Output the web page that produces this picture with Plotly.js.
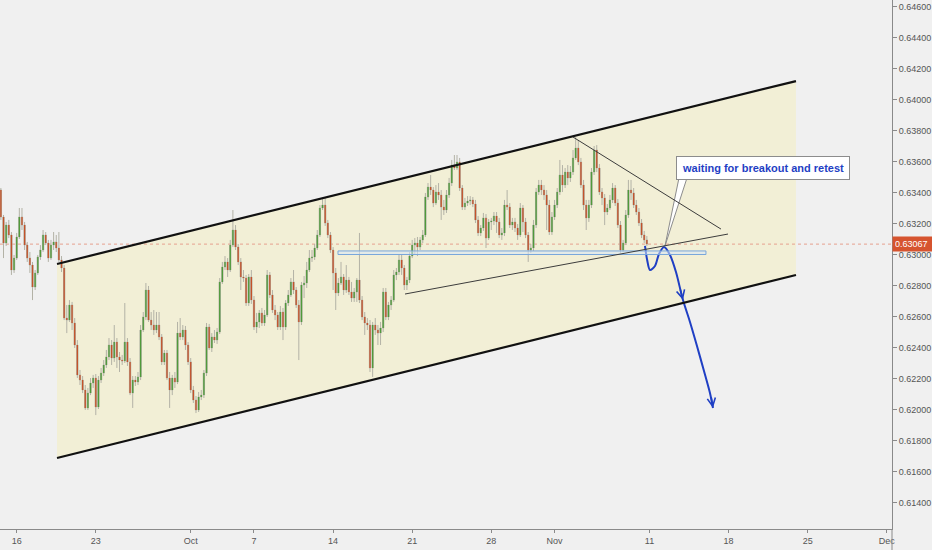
<!DOCTYPE html>
<html>
<head>
<meta charset="utf-8">
<script src="https://cdn.plot.ly/plotly-3.0.1.min.js"></script>
<style>
  html, body { margin: 0; padding: 0; background: #f0f0f0; }
  #chart { width: 932px; height: 550px; }
</style>
</head>
<body>
<div id="chart"></div>
<script>
// ---- 4-hour bars, first bar Thu 2019-09-12 20:00, then 6 bars per trading day ----
const firstBar = '2019-09-12 20:00';
const tradingDays = ['2019-09-13','2019-09-16','2019-09-17','2019-09-18','2019-09-19','2019-09-20',
  '2019-09-23','2019-09-24','2019-09-25','2019-09-26','2019-09-27','2019-09-30','2019-10-01','2019-10-02',
  '2019-10-03','2019-10-04','2019-10-07','2019-10-08','2019-10-09','2019-10-10','2019-10-11','2019-10-14',
  '2019-10-15','2019-10-16','2019-10-17','2019-10-18','2019-10-21','2019-10-22','2019-10-23','2019-10-24',
  '2019-10-25','2019-10-28','2019-10-29','2019-10-30','2019-10-31','2019-11-01','2019-11-04','2019-11-05',
  '2019-11-06','2019-11-07','2019-11-08'];
const barHours = ['00:00','04:00','08:00','12:00','16:00','20:00'];

const openP = [
.63365,.63416,.63242,.63074,.63190,.63126,.62900,.62977,.63113,.63242,
.63190,.63061,.62977,.62932,.62790,.62881,.62984,.63029,.63126,.63074,
.62977,.63061,.63081,.63042,.62965,.62913,.62590,.62577,.62674,.62558,
.62416,.62223,.62190,.62126,.62010,.62106,.62171,.62203,.62016,.62190,
.62235,.62287,.62339,.62416,.62332,.62435,.62339,.62319,.62313,.62435,
.62307,.62106,.62190,.62177,.62210,.62513,.62597,.62771,.62577,.62545,
.62513,.62545,.62468,.62307,.62364,.62203,.62126,.62203,.62177,.62493,
.62468,.62513,.62416,.62307,.62126,.62061,.61997,.62081,.62093,.62235,
.62532,.62397,.62468,.62448,.62500,.62823,.62919,.62952,.62900,.63061,
.63158,.63048,.62952,.62855,.62848,.62687,.62855,.62706,.62532,.62565,
.62623,.62558,.62610,.62868,.62739,.62642,.62610,.62532,.62629,.62532,
.62687,.62739,.62823,.62771,.62674,.62565,.62803,.62816,.62900,.62977,
.62984,.63042,.63126,.63300,.63319,.63203,.63126,.63029,.62881,.62752,
.62816,.62855,.62771,.62835,.62758,.62719,.62758,.62835,.62706,.62597,
.62558,.62545,.62268,.62545,.62513,.62493,.62526,.62758,.62597,.62674,
.62706,.62868,.62887,.62965,.62913,.62803,.62835,.62990,.63061,.63074,
.63048,.63094,.63126,.63371,.63435,.63416,.63332,.63403,.63384,.63306,
.63287,.63384,.63461,.63577,.63558,.63597,.63429,.63306,.63332,.63345,
.63352,.63326,.63223,.63139,.63171,.63236,.63106,.63210,.63216,.63248,
.63210,.63126,.63139,.63319,.63306,.63190,.63210,.63171,.63126,.63300,
.63210,.63126,.63029,.63042,.63190,.63403,.63448,.63416,.63384,.63319,
.63145,.63242,.63319,.63403,.63513,.63448,.63532,.63494,.63532,.63623,
.63687,.63597,.63448,.63319,.63236,.63319,.63532,.63674,.63558,.63403,
.63365,.63274,.63300,.63352,.63429,.63332,.63190,.63029,.63074,.63255,
.63416,.63397,.63319,.63274,.63203,.63126,.63094];

const highP = [
.63442,.63429,.63255,.63210,.63223,.63145,.62997,.63139,.63300,.63300,
.63210,.63081,.63016,.62952,.62900,.62997,.63061,.63158,.63145,.63094,
.63094,.63145,.63126,.63145,.62990,.62932,.62674,.62706,.62694,.62590,
.62448,.62255,.62216,.62158,.62139,.62203,.62223,.62229,.62216,.62268,
.62319,.62384,.62461,.62448,.62545,.62461,.62371,.62352,.62687,.62461,
.62332,.62216,.62216,.62242,.62545,.62629,.62816,.62797,.62629,.62642,
.62629,.62629,.62487,.62384,.62384,.62242,.62223,.62242,.62565,.62590,
.62545,.62539,.62435,.62332,.62152,.62087,.62113,.62126,.62255,.62558,
.62552,.62493,.62513,.62526,.62848,.62952,.62990,.62977,.63094,.63287,
.63190,.63068,.62977,.62900,.62868,.62874,.62900,.62732,.62623,.62642,
.62655,.62642,.62900,.62887,.62771,.62674,.62629,.62668,.62655,.62706,
.62771,.62848,.62900,.62790,.62706,.62823,.62861,.62952,.63029,.63029,
.63068,.63158,.63319,.63365,.63365,.63223,.63145,.63048,.62913,.62848,
.62952,.62874,.62932,.62855,.62823,.62784,.62848,.63139,.62732,.62629,
.62590,.62577,.62565,.62590,.62545,.62565,.62784,.62784,.62694,.62732,
.62900,.62913,.62997,.62997,.62932,.62855,.63016,.63094,.63106,.63113,
.63113,.63158,.63397,.63461,.63513,.63435,.63448,.63461,.63416,.63352,
.63416,.63494,.63610,.63642,.63642,.63623,.63448,.63365,.63377,.63377,
.63371,.63352,.63248,.63190,.63268,.63261,.63229,.63236,.63274,.63274,
.63236,.63171,.63352,.63416,.63332,.63236,.63236,.63197,.63332,.63319,
.63236,.63145,.63068,.63223,.63429,.63481,.63481,.63448,.63416,.63352,
.63274,.63352,.63429,.63610,.63577,.63558,.63577,.63571,.63674,.63758,
.63739,.63623,.63481,.63352,.63352,.63558,.63700,.63706,.63584,.63429,
.63390,.63326,.63384,.63461,.63448,.63358,.63216,.63094,.63287,.63481,
.63481,.63429,.63352,.63300,.63229,.63152,.63119];

const lowP = [
.63352,.63223,.62977,.63055,.63106,.62868,.62881,.62965,.63100,.63158,
.63029,.62952,.62881,.62706,.62771,.62868,.62965,.63016,.63061,.62952,
.62965,.63029,.63016,.62952,.62887,.62577,.62493,.62565,.62513,.62397,
.62203,.62158,.62106,.61997,.61997,.62093,.62139,.61964,.62003,.62171,
.62216,.62268,.62319,.62287,.62307,.62268,.62242,.62287,.62300,.62281,
.62093,.62010,.62152,.62158,.62190,.62500,.62577,.62565,.62513,.62481,
.62493,.62448,.62287,.62287,.62190,.62010,.62093,.62139,.62164,.62448,
.62448,.62384,.62287,.62106,.62042,.61977,.61984,.62061,.62074,.62216,
.62384,.62371,.62429,.62423,.62487,.62810,.62900,.62855,.62887,.63048,
.63029,.62932,.62771,.62823,.62668,.62668,.62681,.62513,.62493,.62526,
.62539,.62539,.62597,.62719,.62623,.62577,.62513,.62513,.62448,.62513,
.62668,.62726,.62745,.62655,.62319,.62545,.62719,.62784,.62887,.62952,
.62965,.63029,.63113,.63287,.63184,.63106,.63010,.62771,.62642,.62732,
.62803,.62739,.62752,.62739,.62694,.62694,.62694,.62687,.62577,.62481,
.62513,.62242,.62210,.62481,.62416,.62416,.62500,.62577,.62577,.62642,
.62694,.62835,.62868,.62868,.62771,.62771,.62816,.62977,.62997,.62990,
.63029,.63074,.63113,.63352,.63384,.63306,.63319,.63352,.63223,.63255,
.63268,.63365,.63442,.63545,.63545,.63410,.63287,.63287,.63313,.63319,
.63306,.63203,.63119,.63119,.63152,.63042,.63094,.63158,.63190,.63139,
.63106,.63094,.63119,.63287,.63171,.63158,.63145,.63094,.63113,.63145,
.63106,.62952,.63010,.63023,.63171,.63384,.63384,.63352,.63158,.63126,
.63126,.63223,.63300,.63384,.63403,.63429,.63448,.63468,.63513,.63610,
.63577,.63429,.63287,.63158,.63210,.63300,.63513,.63532,.63384,.63319,
.63190,.63255,.63287,.63332,.63313,.63171,.63010,.63016,.63061,.63236,
.63352,.63300,.63255,.63184,.63106,.63074,.63055];

const closeP = [
.63416,.63242,.63074,.63190,.63126,.62900,.62977,.63113,.63242,.63190,
.63061,.62977,.62932,.62790,.62881,.62984,.63029,.63126,.63074,.62977,
.63061,.63081,.63042,.62965,.62913,.62590,.62577,.62674,.62558,.62416,
.62223,.62190,.62126,.62010,.62106,.62171,.62203,.62016,.62190,.62235,
.62287,.62339,.62416,.62332,.62435,.62339,.62319,.62313,.62435,.62307,
.62106,.62190,.62177,.62210,.62513,.62597,.62771,.62577,.62545,.62513,
.62545,.62468,.62307,.62364,.62203,.62126,.62203,.62177,.62493,.62468,
.62513,.62416,.62307,.62126,.62061,.61997,.62081,.62093,.62235,.62532,
.62397,.62468,.62448,.62500,.62823,.62919,.62952,.62900,.63061,.63158,
.63048,.62952,.62855,.62848,.62687,.62855,.62706,.62532,.62565,.62623,
.62558,.62610,.62868,.62739,.62642,.62610,.62532,.62629,.62532,.62687,
.62739,.62823,.62771,.62674,.62565,.62803,.62816,.62900,.62977,.62984,
.63042,.63126,.63300,.63319,.63203,.63126,.63029,.62881,.62752,.62816,
.62855,.62771,.62835,.62758,.62719,.62758,.62835,.62706,.62597,.62558,
.62545,.62268,.62545,.62513,.62493,.62526,.62758,.62597,.62674,.62706,
.62868,.62887,.62965,.62913,.62803,.62835,.62990,.63061,.63074,.63048,
.63094,.63126,.63371,.63435,.63416,.63332,.63403,.63384,.63306,.63287,
.63384,.63461,.63577,.63558,.63597,.63429,.63306,.63332,.63345,.63352,
.63326,.63223,.63139,.63171,.63236,.63106,.63210,.63216,.63248,.63210,
.63126,.63139,.63319,.63306,.63190,.63210,.63171,.63126,.63300,.63210,
.63126,.63029,.63042,.63190,.63403,.63448,.63416,.63384,.63319,.63145,
.63242,.63319,.63403,.63513,.63448,.63532,.63494,.63532,.63623,.63687,
.63597,.63448,.63319,.63236,.63319,.63532,.63674,.63558,.63403,.63365,
.63274,.63300,.63352,.63429,.63332,.63190,.63029,.63074,.63255,.63416,
.63397,.63319,.63274,.63203,.63126,.63094,.63067];

const lastPrice = 0.63067;

// axis ticks
const xRange = ['2019-09-12 22:40', '2019-12-02 07:55'];
const tickDates = ['2019-09-16','2019-09-23','2019-10-01','2019-10-07','2019-10-14','2019-10-21',
  '2019-10-28','2019-11-01','2019-11-11','2019-11-18','2019-11-25','2019-12-02'];
const tickText = ['16','23','Oct','7','14','21','28','Nov','11','18','25','Dec'];

// analyst drawings (date, price)
const channelX = ['2019-09-18 13:08','2019-11-22 06:14','2019-11-22 06:14','2019-09-18 13:08'];
const channelY = [0.62939, 0.64119, 0.62868, 0.61687];
const zoneX = ['2019-10-14 07:26','2019-11-14 13:41'];
const zoneY = [0.63000, 0.63023];
const risingX = ['2019-10-18 13:05','2019-11-15 23:07'];
const risingY = [0.62745, 0.63132];
const fallingX = ['2019-11-04 03:56','2019-11-15 12:29'];
const fallingY = [0.63758, 0.63164];
const pathX = ['2019-11-08 17:11','2019-11-08 20:12','2019-11-11 00:45','2019-11-11 08:20','2019-11-11 14:24',
  '2019-11-11 21:59','2019-11-12 07:06','2019-11-12 16:12','2019-11-13 02:49','2019-11-13 13:26',
  '2019-11-14 00:03','2019-11-14 10:41','2019-11-14 19:46','2019-11-15 00:20'];
const pathY = [0.63055,0.62971,0.62900,0.62926,0.63003,0.63048,0.62997,0.62887,0.62706,0.62565,
  0.62410,0.62248,0.62106,0.62010];
const calloutText = 'waiting for breakout and retest';
const calloutX = '2019-11-20 04:57', calloutY = 0.63558;
const tailX = ['2019-11-12 20:46','2019-11-11 23:30','2019-11-13 08:54'];
const tailY = [0.63494, 0.63055, 0.63494];

// ---- build bar times ----
const barTimes = [firstBar];
tradingDays.forEach(d => barHours.forEach(h => barTimes.push(d + ' ' + h)));

// channel polygon as a shape path (date strings use '_' instead of space in paths)
const pathPt = (x, y) => x.replace(' ', '_') + ',' + y;
const channelPath = 'M' + channelX.map((x, i) => pathPt(x, channelY[i])).join(' L') + ' Z';

const GREEN = '#4f9a3a', RED = '#c4522a', WICK = '#b3b2a6';
const BLUE = '#1f3fc4';

const traces = [
  { type: 'candlestick', x: barTimes, open: openP, high: highP, low: lowP, close: closeP,
    whiskerwidth: 0, hoverinfo: 'skip',
    increasing: { line: { color: WICK, width: 1 }, fillcolor: WICK },
    decreasing: { line: { color: WICK, width: 1 }, fillcolor: WICK } },
  { type: 'candlestick', x: barTimes, open: openP, high: highP, low: lowP, close: closeP,
    whiskerwidth: 0, hoverinfo: 'skip',
    increasing: { line: { color: GREEN, width: 0 }, fillcolor: GREEN },
    decreasing: { line: { color: RED, width: 0 }, fillcolor: RED } },
  { type: 'scatter', mode: 'lines', x: pathX, y: pathY, line: { color: BLUE, width: 2, shape: 'spline', smoothing: 0.8 },
    hoverinfo: 'skip' },
  { type: 'scatter', mode: 'lines', x: tailX, y: tailY, fill: 'toself', fillcolor: '#ffffff',
    line: { color: '#8c8c8c', width: 1 }, hoverinfo: 'skip' }
];

const shapes = [
  { type: 'path', xref: 'x', yref: 'y', path: channelPath, fillcolor: '#f2efd6',
    line: { width: 0 }, layer: 'below' },
  { type: 'line', xref: 'x', x0: xRange[0], x1: xRange[1], yref: 'y', y0: lastPrice, y1: lastPrice,
    line: { color: '#e6a08f', width: 1, dash: 'dot' }, layer: 'below' },
  { type: 'line', xref: 'x', yref: 'y', x0: channelX[0], y0: channelY[0], x1: channelX[1], y1: channelY[1],
    line: { color: '#111', width: 2.2 }, layer: 'above' },
  { type: 'line', xref: 'x', yref: 'y', x0: channelX[3], y0: channelY[3], x1: channelX[2], y1: channelY[2],
    line: { color: '#111', width: 2.2 }, layer: 'above' },
  { type: 'rect', xref: 'x', yref: 'y', x0: zoneX[0], x1: zoneX[1], y0: zoneY[0], y1: zoneY[1],
    line: { color: '#79a7db', width: 1 }, fillcolor: 'rgba(215,230,248,0.55)', layer: 'above' },
  { type: 'line', xref: 'x', yref: 'y', x0: risingX[0], y0: risingY[0], x1: risingX[1], y1: risingY[1],
    line: { color: '#3c3c3c', width: 1 }, layer: 'above' },
  { type: 'line', xref: 'x', yref: 'y', x0: fallingX[0], y0: fallingY[0], x1: fallingX[1], y1: fallingY[1],
    line: { color: '#3c3c3c', width: 1 }, layer: 'above' },
  { type: 'line', xref: 'paper', yref: 'paper', x0: 1, x1: 1, y0: 0, y1: -0.05,
    line: { color: '#8a8a8a', width: 1 } }
];

const annotations = [
  { xref: 'x', yref: 'y', x: calloutX, y: calloutY, text: '<b>' + calloutText + '</b>',
    showarrow: false, xanchor: 'center', yanchor: 'middle',
    font: { family: 'Liberation Sans, Arial, sans-serif', size: 11, color: BLUE },
    bgcolor: '#ffffff', bordercolor: '#8c8c8c', borderwidth: 1, borderpad: 5 },
  { xref: 'x', yref: 'y', x: pathX[8], y: pathY[8], text: '', showarrow: true,
    ax: -3, ay: -12, arrowhead: 5, arrowsize: 1, arrowwidth: 1.6, arrowcolor: BLUE, standoff: 0 },
  { xref: 'x', yref: 'y', x: pathX[13], y: pathY[13], text: '', showarrow: true,
    ax: -2, ay: -12, arrowhead: 5, arrowsize: 1, arrowwidth: 1.6, arrowcolor: BLUE, standoff: 0 },
  { xref: 'paper', yref: 'y', x: 1, y: lastPrice, xanchor: 'left', yanchor: 'middle',
    text: lastPrice.toFixed(5), showarrow: false, align: 'left', width: 36,
    font: { family: 'Liberation Sans, Arial, sans-serif', size: 9, color: '#ffffff' },
    bgcolor: '#d6542f', borderpad: 2 }
];

const layout = {
  width: 932, height: 550,
  margin: { l: 0, r: 40, t: 0, b: 21 },
  paper_bgcolor: '#f0f0f0', plot_bgcolor: '#f0f0f0',
  showlegend: false,
  font: { family: 'Liberation Sans, Arial, sans-serif', size: 9, color: '#555' },
  xaxis: {
    type: 'date',
    range: xRange,
    rangebreaks: [{ bounds: ['sat', 'mon'] }],
    rangeslider: { visible: false },
    tickmode: 'array', tickvals: tickDates, ticktext: tickText,
    showgrid: false, zeroline: false,
    showline: true, linecolor: '#8a8a8a', linewidth: 1,
    ticks: 'outside', ticklen: 3, tickcolor: '#8a8a8a',
    tickfont: { size: 9, color: '#555' }, fixedrange: true
  },
  yaxis: {
    side: 'right',
    range: [0.61229, 0.64642],
    tick0: 0.614, dtick: 0.002, tickformat: '.5f',
    showgrid: false, zeroline: false,
    showline: true, linecolor: '#8a8a8a', linewidth: 1,
    ticks: 'outside', ticklen: 4, tickcolor: '#8a8a8a',
    tickfont: { size: 9, color: '#555' }, fixedrange: true
  },
  shapes: shapes,
  annotations: annotations
};

Plotly.newPlot('chart', traces, layout, { displayModeBar: false, staticPlot: true });
</script>
</body>
</html>
